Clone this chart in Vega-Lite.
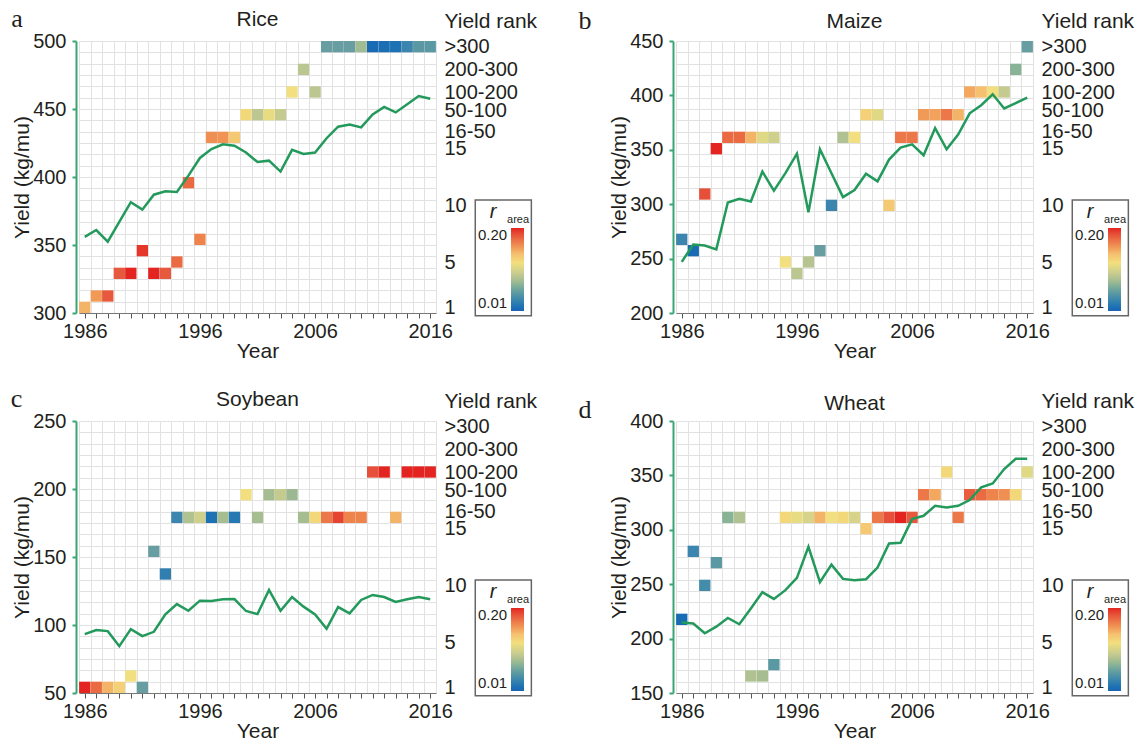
{
  "$schema": "https://vega.github.io/schema/vega-lite/v6.json",
  "padding": {"left": 10, "top": 5, "right": 5, "bottom": 5},
  "background": "white",
  "datasets": {
    "yield": [
      {"crop":"Rice","year":1986,"yield":356},{"crop":"Rice","year":1987,"yield":361},{"crop":"Rice","year":1988,"yield":352.5},{"crop":"Rice","year":1989,"yield":367},{"crop":"Rice","year":1990,"yield":381.5},{"crop":"Rice","year":1991,"yield":376},{"crop":"Rice","year":1992,"yield":387},{"crop":"Rice","year":1993,"yield":389.5},{"crop":"Rice","year":1994,"yield":389},{"crop":"Rice","year":1995,"yield":401},{"crop":"Rice","year":1996,"yield":414},{"crop":"Rice","year":1997,"yield":420.5},{"crop":"Rice","year":1998,"yield":424},{"crop":"Rice","year":1999,"yield":423},{"crop":"Rice","year":2000,"yield":418},{"crop":"Rice","year":2001,"yield":411},{"crop":"Rice","year":2002,"yield":412},{"crop":"Rice","year":2003,"yield":404},{"crop":"Rice","year":2004,"yield":420},{"crop":"Rice","year":2005,"yield":417},{"crop":"Rice","year":2006,"yield":418},{"crop":"Rice","year":2007,"yield":428.5},{"crop":"Rice","year":2008,"yield":437},{"crop":"Rice","year":2009,"yield":438.5},{"crop":"Rice","year":2010,"yield":436.5},{"crop":"Rice","year":2011,"yield":446},{"crop":"Rice","year":2012,"yield":451.5},{"crop":"Rice","year":2013,"yield":447.5},{"crop":"Rice","year":2014,"yield":453.5},{"crop":"Rice","year":2015,"yield":459.5},{"crop":"Rice","year":2016,"yield":457.5},
      {"crop":"Maize","year":1986,"yield":247},{"crop":"Maize","year":1987,"yield":263},{"crop":"Maize","year":1988,"yield":262},{"crop":"Maize","year":1989,"yield":258.5},{"crop":"Maize","year":1990,"yield":301.5},{"crop":"Maize","year":1991,"yield":305},{"crop":"Maize","year":1992,"yield":302.5},{"crop":"Maize","year":1993,"yield":330},{"crop":"Maize","year":1994,"yield":312.5},{"crop":"Maize","year":1995,"yield":328.5},{"crop":"Maize","year":1996,"yield":346.5},{"crop":"Maize","year":1997,"yield":292.5},{"crop":"Maize","year":1998,"yield":350.5},{"crop":"Maize","year":1999,"yield":328.5},{"crop":"Maize","year":2000,"yield":306.5},{"crop":"Maize","year":2001,"yield":313},{"crop":"Maize","year":2002,"yield":328},{"crop":"Maize","year":2003,"yield":321},{"crop":"Maize","year":2004,"yield":341},{"crop":"Maize","year":2005,"yield":352},{"crop":"Maize","year":2006,"yield":355},{"crop":"Maize","year":2007,"yield":345},{"crop":"Maize","year":2008,"yield":370},{"crop":"Maize","year":2009,"yield":350.5},{"crop":"Maize","year":2010,"yield":364},{"crop":"Maize","year":2011,"yield":383.5},{"crop":"Maize","year":2012,"yield":391},{"crop":"Maize","year":2013,"yield":401},{"crop":"Maize","year":2014,"yield":388},{"crop":"Maize","year":2015,"yield":393},{"crop":"Maize","year":2016,"yield":398},
      {"crop":"Soybean","year":1986,"yield":93.3},{"crop":"Soybean","year":1987,"yield":96.3},{"crop":"Soybean","year":1988,"yield":95.5},{"crop":"Soybean","year":1989,"yield":84.4},{"crop":"Soybean","year":1990,"yield":97},{"crop":"Soybean","year":1991,"yield":91.8},{"crop":"Soybean","year":1992,"yield":95},{"crop":"Soybean","year":1993,"yield":107.8},{"crop":"Soybean","year":1994,"yield":115.4},{"crop":"Soybean","year":1995,"yield":110.5},{"crop":"Soybean","year":1996,"yield":117.9},{"crop":"Soybean","year":1997,"yield":117.6},{"crop":"Soybean","year":1998,"yield":118.9},{"crop":"Soybean","year":1999,"yield":119.1},{"crop":"Soybean","year":2000,"yield":110.3},{"crop":"Soybean","year":2001,"yield":108},{"crop":"Soybean","year":2002,"yield":125.8},{"crop":"Soybean","year":2003,"yield":110.5},{"crop":"Soybean","year":2004,"yield":120.6},{"crop":"Soybean","year":2005,"yield":113.5},{"crop":"Soybean","year":2006,"yield":107.8},{"crop":"Soybean","year":2007,"yield":97.2},{"crop":"Soybean","year":2008,"yield":113.2},{"crop":"Soybean","year":2009,"yield":108.6},{"crop":"Soybean","year":2010,"yield":118.4},{"crop":"Soybean","year":2011,"yield":122.1},{"crop":"Soybean","year":2012,"yield":120.6},{"crop":"Soybean","year":2013,"yield":116.9},{"crop":"Soybean","year":2014,"yield":118.9},{"crop":"Soybean","year":2015,"yield":120.6},{"crop":"Soybean","year":2016,"yield":118.9},
      {"crop":"Wheat","year":1986,"yield":214.7},{"crop":"Wheat","year":1987,"yield":213.8},{"crop":"Wheat","year":1988,"yield":204.9},{"crop":"Wheat","year":1989,"yield":211},{"crop":"Wheat","year":1990,"yield":219},{"crop":"Wheat","year":1991,"yield":213.2},{"crop":"Wheat","year":1992,"yield":227.6},{"crop":"Wheat","year":1993,"yield":242.6},{"crop":"Wheat","year":1994,"yield":236.5},{"crop":"Wheat","year":1995,"yield":244.5},{"crop":"Wheat","year":1996,"yield":255.8},{"crop":"Wheat","year":1997,"yield":284.4},{"crop":"Wheat","year":1998,"yield":251.8},{"crop":"Wheat","year":1999,"yield":268},{"crop":"Wheat","year":2000,"yield":254.9},{"crop":"Wheat","year":2001,"yield":253.7},{"crop":"Wheat","year":2002,"yield":254.6},{"crop":"Wheat","year":2003,"yield":265.3},{"crop":"Wheat","year":2004,"yield":287.4},{"crop":"Wheat","year":2005,"yield":288},{"crop":"Wheat","year":2006,"yield":309.8},{"crop":"Wheat","year":2007,"yield":312.9},{"crop":"Wheat","year":2008,"yield":322},{"crop":"Wheat","year":2009,"yield":320.6},{"crop":"Wheat","year":2010,"yield":322},{"crop":"Wheat","year":2011,"yield":327.3},{"crop":"Wheat","year":2012,"yield":339},{"crop":"Wheat","year":2013,"yield":342.6},{"crop":"Wheat","year":2014,"yield":355.8},{"crop":"Wheat","year":2015,"yield":365.3},{"crop":"Wheat","year":2016,"yield":365.3}
    ],
    "cells": [
      {"crop":"Rice","year":1986,"rank":"1","r":0.145},{"crop":"Rice","year":1987,"rank":"2","r":0.155},{"crop":"Rice","year":1988,"rank":"2","r":0.182},{"crop":"Rice","year":1989,"rank":"4","r":0.182},{"crop":"Rice","year":1990,"rank":"4","r":0.2},{"crop":"Rice","year":1991,"rank":"6","r":0.195},{"crop":"Rice","year":1992,"rank":"4","r":0.2},{"crop":"Rice","year":1993,"rank":"4","r":0.182},{"crop":"Rice","year":1994,"rank":"5","r":0.175},{"crop":"Rice","year":1995,"rank":"12","r":0.175},{"crop":"Rice","year":1996,"rank":"7","r":0.165},{"crop":"Rice","year":1997,"rank":"16-50","r":0.16},{"crop":"Rice","year":1998,"rank":"16-50","r":0.158},{"crop":"Rice","year":1999,"rank":"16-50","r":0.135},{"crop":"Rice","year":2000,"rank":"50-100","r":0.125},{"crop":"Rice","year":2001,"rank":"50-100","r":0.09},{"crop":"Rice","year":2002,"rank":"50-100","r":0.115},{"crop":"Rice","year":2003,"rank":"50-100","r":0.095},{"crop":"Rice","year":2004,"rank":"100-200","r":0.12},{"crop":"Rice","year":2005,"rank":"200-300","r":0.09},{"crop":"Rice","year":2006,"rank":"100-200","r":0.09},{"crop":"Rice","year":2007,"rank":">300","r":0.055},{"crop":"Rice","year":2008,"rank":">300","r":0.055},{"crop":"Rice","year":2009,"rank":">300","r":0.055},{"crop":"Rice","year":2010,"rank":">300","r":0.078},{"crop":"Rice","year":2011,"rank":">300","r":0.015},{"crop":"Rice","year":2012,"rank":">300","r":0.017},{"crop":"Rice","year":2013,"rank":">300","r":0.02},{"crop":"Rice","year":2014,"rank":">300","r":0.035},{"crop":"Rice","year":2015,"rank":">300","r":0.05},{"crop":"Rice","year":2016,"rank":">300","r":0.05},
      {"crop":"Maize","year":1986,"rank":"7","r":0.035},{"crop":"Maize","year":1987,"rank":"6","r":0.015},{"crop":"Maize","year":1988,"rank":"11","r":0.185},{"crop":"Maize","year":1989,"rank":"15","r":0.2},{"crop":"Maize","year":1990,"rank":"16-50","r":0.175},{"crop":"Maize","year":1991,"rank":"16-50","r":0.175},{"crop":"Maize","year":1992,"rank":"16-50","r":0.145},{"crop":"Maize","year":1993,"rank":"16-50","r":0.11},{"crop":"Maize","year":1994,"rank":"16-50","r":0.1},{"crop":"Maize","year":1995,"rank":"5","r":0.12},{"crop":"Maize","year":1996,"rank":"4","r":0.09},{"crop":"Maize","year":1997,"rank":"5","r":0.088},{"crop":"Maize","year":1998,"rank":"6","r":0.055},{"crop":"Maize","year":1999,"rank":"10","r":0.035},{"crop":"Maize","year":2000,"rank":"16-50","r":0.085},{"crop":"Maize","year":2001,"rank":"16-50","r":0.12},{"crop":"Maize","year":2002,"rank":"50-100","r":0.13},{"crop":"Maize","year":2003,"rank":"50-100","r":0.11},{"crop":"Maize","year":2004,"rank":"10","r":0.135},{"crop":"Maize","year":2005,"rank":"16-50","r":0.17},{"crop":"Maize","year":2006,"rank":"16-50","r":0.17},{"crop":"Maize","year":2007,"rank":"50-100","r":0.155},{"crop":"Maize","year":2008,"rank":"50-100","r":0.152},{"crop":"Maize","year":2009,"rank":"50-100","r":0.17},{"crop":"Maize","year":2010,"rank":"50-100","r":0.145},{"crop":"Maize","year":2011,"rank":"100-200","r":0.15},{"crop":"Maize","year":2012,"rank":"100-200","r":0.14},{"crop":"Maize","year":2013,"rank":"100-200","r":0.12},{"crop":"Maize","year":2014,"rank":"100-200","r":0.095},{"crop":"Maize","year":2015,"rank":"200-300","r":0.07},{"crop":"Maize","year":2016,"rank":">300","r":0.055},
      {"crop":"Soybean","year":1986,"rank":"1","r":0.2},{"crop":"Soybean","year":1987,"rank":"1","r":0.175},{"crop":"Soybean","year":1988,"rank":"1","r":0.145},{"crop":"Soybean","year":1989,"rank":"1","r":0.13},{"crop":"Soybean","year":1990,"rank":"2","r":0.12},{"crop":"Soybean","year":1991,"rank":"1","r":0.055},{"crop":"Soybean","year":1992,"rank":"13","r":0.055},{"crop":"Soybean","year":1993,"rank":"11","r":0.03},{"crop":"Soybean","year":1994,"rank":"16-50","r":0.035},{"crop":"Soybean","year":1995,"rank":"16-50","r":0.085},{"crop":"Soybean","year":1996,"rank":"16-50","r":0.1},{"crop":"Soybean","year":1997,"rank":"16-50","r":0.02},{"crop":"Soybean","year":1998,"rank":"16-50","r":0.08},{"crop":"Soybean","year":1999,"rank":"16-50","r":0.025},{"crop":"Soybean","year":2000,"rank":"50-100","r":0.12},{"crop":"Soybean","year":2001,"rank":"16-50","r":0.08},{"crop":"Soybean","year":2002,"rank":"50-100","r":0.08},{"crop":"Soybean","year":2003,"rank":"50-100","r":0.095},{"crop":"Soybean","year":2004,"rank":"50-100","r":0.075},{"crop":"Soybean","year":2005,"rank":"16-50","r":0.08},{"crop":"Soybean","year":2006,"rank":"16-50","r":0.125},{"crop":"Soybean","year":2007,"rank":"16-50","r":0.17},{"crop":"Soybean","year":2008,"rank":"16-50","r":0.19},{"crop":"Soybean","year":2009,"rank":"16-50","r":0.165},{"crop":"Soybean","year":2010,"rank":"16-50","r":0.165},{"crop":"Soybean","year":2011,"rank":"100-200","r":0.185},{"crop":"Soybean","year":2012,"rank":"100-200","r":0.2},{"crop":"Soybean","year":2013,"rank":"16-50","r":0.145},{"crop":"Soybean","year":2014,"rank":"100-200","r":0.2},{"crop":"Soybean","year":2015,"rank":"100-200","r":0.2},{"crop":"Soybean","year":2016,"rank":"100-200","r":0.2},
      {"crop":"Wheat","year":1986,"rank":"7","r":0.015},{"crop":"Wheat","year":1987,"rank":"13","r":0.035},{"crop":"Wheat","year":1988,"rank":"10","r":0.04},{"crop":"Wheat","year":1989,"rank":"12","r":0.05},{"crop":"Wheat","year":1990,"rank":"16-50","r":0.07},{"crop":"Wheat","year":1991,"rank":"16-50","r":0.085},{"crop":"Wheat","year":1992,"rank":"2","r":0.085},{"crop":"Wheat","year":1993,"rank":"2","r":0.08},{"crop":"Wheat","year":1994,"rank":"3","r":0.05},{"crop":"Wheat","year":1995,"rank":"16-50","r":0.125},{"crop":"Wheat","year":1996,"rank":"16-50","r":0.115},{"crop":"Wheat","year":1997,"rank":"16-50","r":0.105},{"crop":"Wheat","year":1998,"rank":"16-50","r":0.145},{"crop":"Wheat","year":1999,"rank":"16-50","r":0.12},{"crop":"Wheat","year":2000,"rank":"16-50","r":0.125},{"crop":"Wheat","year":2001,"rank":"16-50","r":0.105},{"crop":"Wheat","year":2002,"rank":"15","r":0.135},{"crop":"Wheat","year":2003,"rank":"16-50","r":0.17},{"crop":"Wheat","year":2004,"rank":"16-50","r":0.185},{"crop":"Wheat","year":2005,"rank":"16-50","r":0.2},{"crop":"Wheat","year":2006,"rank":"16-50","r":0.182},{"crop":"Wheat","year":2007,"rank":"50-100","r":0.17},{"crop":"Wheat","year":2008,"rank":"50-100","r":0.15},{"crop":"Wheat","year":2009,"rank":"100-200","r":0.125},{"crop":"Wheat","year":2010,"rank":"16-50","r":0.17},{"crop":"Wheat","year":2011,"rank":"50-100","r":0.18},{"crop":"Wheat","year":2012,"rank":"50-100","r":0.175},{"crop":"Wheat","year":2013,"rank":"50-100","r":0.165},{"crop":"Wheat","year":2014,"rank":"50-100","r":0.16},{"crop":"Wheat","year":2015,"rank":"50-100","r":0.125},{"crop":"Wheat","year":2016,"rank":"100-200","r":0.11}
    ]
  },
  "columns": 2,
  "spacing": {"row": 108, "column": 240},
  "bounds": "flush",
  "resolve": {"scale": {"color": "independent", "x": "independent", "y": "independent"}, "legend": {"color": "independent"}},
  "concat": [
    {
      "width": 357, "height": 272,
      "title": {"text": "Rice", "dy": 28},
      "layer": [
        {
          "data": {"name": "cells"},
          "transform": [{"filter": "datum.crop === 'Rice'"}],
          "mark": {"type": "point", "shape": "square", "filled": true, "opacity": 1, "size": 128, "strokeWidth": 0},
          "encoding": {
            "x": {"field": "year", "type": "quantitative", "scale": {"domain": [1985.5, 2016.5], "nice": false, "zero": false},
              "axis": {"title": "Year", "values": [1985.5,1986,1986.5,1987,1987.5,1988,1988.5,1989,1989.5,1990,1990.5,1991,1991.5,1992,1992.5,1993,1993.5,1994,1994.5,1995,1995.5,1996,1996.5,1997,1997.5,1998,1998.5,1999,1999.5,2000,2000.5,2001,2001.5,2002,2002.5,2003,2003.5,2004,2004.5,2005,2005.5,2006,2006.5,2007,2007.5,2008,2008.5,2009,2009.5,2010,2010.5,2011,2011.5,2012,2012.5,2013,2013.5,2014,2014.5,2015,2015.5,2016,2016.5],
                "labelExpr": "indexof([1986,1996,2006,2016], datum.value) >= 0 ? '' + datum.value : ''",
                "grid": true, "gridColor": "#e2e2e2", "gridOpacity": {"condition": {"test": "datum.value % 1 !== 0", "value": 1}, "value": 0},
                "tickOpacity": {"condition": {"test": "datum.value % 1 === 0", "value": 1}, "value": 0},
                "tickSize": 5, "tickColor": "#555555", "domainColor": "#777777", "labelOverlap": false, "labelFlush": false, "labelBound": false, "labelPadding": 3, "titlePadding": -1}},
            "y": {"field": "rank", "type": "ordinal", "bandPosition": 0.5, "scale": {"type": "band", "paddingInner": 0, "paddingOuter": 0, "domain": [">300","    ","200-300","   ","100-200","  ","50-100"," ","16-50","15","14","13","12","11","10","9","8","7","6","5","4","3","2","1"]},
              "axis": {"orient": "right", "title": "Yield rank", "titleAngle": 0, "titleAlign": "left", "titleBaseline": "alphabetic", "titleX": 8, "titleY": -14, "domain": false, "ticks": false, "grid": true, "gridColor": "#e2e2e2", "tickBand": "extent", "labelPadding": 8, "labelOverlap": false, "labelBound": false,
                "labelExpr": "indexof(['1','5','10','15','16-50','50-100','100-200','200-300','>300'], datum.value) >= 0 ? datum.value : ''",
                "labelOffset": {"condition": [{"test": "datum.value === '16-50'", "value": -6}, {"test": "datum.value === '50-100'", "value": -4}], "value": 0}}},
            "color": {"field": "r", "type": "quantitative", "scale": {"domain": [0.01,0.035,0.055,0.075,0.09,0.1,0.12,0.14,0.155,0.17,0.185,0.2], "range": ["#1a64b4","#3c85ae","#689da1","#9bb892","#bcc691","#cfd08c","#f2df7f","#f5c170","#f19a58","#ec7748","#e6503a","#e32420"]},
              "legend": {"orient": "none", "legendX": 432, "legendY": 187, "title": null, "direction": "vertical", "gradientLength": 83, "gradientThickness": 13, "values": [0.01, 0.2], "format": ".2f", "labelAlign": "left", "labelOffset": -46, "labelFontSize": 15, "padding": 0, "gradientStrokeWidth": 0}}
          }
        },
        {
          "layer": [
            {"data": {"name": "yield"}, "transform": [{"filter": "datum.crop === 'Rice'"}],
             "mark": {"type": "line", "color": "#23995c", "strokeWidth": 2.5},
             "encoding": {
               "x": {"field": "year", "type": "quantitative", "scale": {"domain": [1985.5, 2016.5], "nice": false, "zero": false}, "axis": null},
               "y": {"field": "yield", "type": "quantitative", "scale": {"domain": [300, 500], "nice": false, "zero": false},
               "axis": {"title": "Yield (kg/mu)", "values": [300,350,400,450,500], "grid": false, "offset": 3, "domainColor": "#3aa574", "domainWidth": 2, "tickColor": "#3aa574", "tickWidth": 2, "tickSize": 4, "labelPadding": 6, "titlePadding": 0}}}},
            {"data": {"values": [{}]}, "mark": {"type": "rect", "fill": "transparent", "stroke": "#666666", "strokeWidth": 1.5},
             "encoding": {"x": {"datum": 2019.91, "type": "quantitative", "scale": {"domain": [1985.5, 2016.5], "nice": false, "zero": false}, "axis": null}, "x2": {"datum": 2024.78}, "y": {"datum": 383.1, "type": "quantitative"}, "y2": {"datum": 298.0}}},
            {"data": {"values": [{}]}, "mark": {"type": "text", "text": "r", "fontStyle": "italic", "fontSize": 20, "align": "center", "baseline": "alphabetic"},
             "encoding": {"x": {"datum": 2021.45, "type": "quantitative", "scale": {"domain": [1985.5, 2016.5], "nice": false, "zero": false}, "axis": null}, "y": {"datum": 369.9, "type": "quantitative"}}},
            {"data": {"values": [{}]}, "mark": {"type": "text", "text": "area", "fontSize": 11, "align": "left", "baseline": "alphabetic"},
             "encoding": {"x": {"datum": 2022.67, "type": "quantitative", "scale": {"domain": [1985.5, 2016.5], "nice": false, "zero": false}, "axis": null}, "y": {"datum": 366.2, "type": "quantitative"}}},
            {"data": {"values": [{}]}, "mark": {"type": "text", "text": "a", "font": "Liberation Serif", "fontSize": 26, "align": "center", "baseline": "alphabetic"},
             "encoding": {"x": {"datum": 1980.11, "type": "quantitative", "scale": {"domain": [1985.5, 2016.5], "nice": false, "zero": false}, "axis": null}, "y": {"datum": 510.3, "type": "quantitative"}}}
          ],
          "resolve": {"scale": {"x": "independent"}}
        }
      ],
      "resolve": {"scale": {"y": "independent"}}
    },
    {
      "width": 357, "height": 272,
      "title": {"text": "Maize", "dy": 28},
      "layer": [
        {
          "data": {"name": "cells"},
          "transform": [{"filter": "datum.crop === 'Maize'"}],
          "mark": {"type": "point", "shape": "square", "filled": true, "opacity": 1, "size": 128, "strokeWidth": 0},
          "encoding": {
            "x": {"field": "year", "type": "quantitative", "scale": {"domain": [1985.5, 2016.5], "nice": false, "zero": false},
              "axis": {"title": "Year", "values": [1985.5,1986,1986.5,1987,1987.5,1988,1988.5,1989,1989.5,1990,1990.5,1991,1991.5,1992,1992.5,1993,1993.5,1994,1994.5,1995,1995.5,1996,1996.5,1997,1997.5,1998,1998.5,1999,1999.5,2000,2000.5,2001,2001.5,2002,2002.5,2003,2003.5,2004,2004.5,2005,2005.5,2006,2006.5,2007,2007.5,2008,2008.5,2009,2009.5,2010,2010.5,2011,2011.5,2012,2012.5,2013,2013.5,2014,2014.5,2015,2015.5,2016,2016.5],
                "labelExpr": "indexof([1986,1996,2006,2016], datum.value) >= 0 ? '' + datum.value : ''",
                "grid": true, "gridColor": "#e2e2e2", "gridOpacity": {"condition": {"test": "datum.value % 1 !== 0", "value": 1}, "value": 0},
                "tickOpacity": {"condition": {"test": "datum.value % 1 === 0", "value": 1}, "value": 0},
                "tickSize": 5, "tickColor": "#555555", "domainColor": "#777777", "labelOverlap": false, "labelFlush": false, "labelBound": false, "labelPadding": 3, "titlePadding": -1}},
            "y": {"field": "rank", "type": "ordinal", "bandPosition": 0.5, "scale": {"type": "band", "paddingInner": 0, "paddingOuter": 0, "domain": [">300","    ","200-300","   ","100-200","  ","50-100"," ","16-50","15","14","13","12","11","10","9","8","7","6","5","4","3","2","1"]},
              "axis": {"orient": "right", "title": "Yield rank", "titleAngle": 0, "titleAlign": "left", "titleBaseline": "alphabetic", "titleX": 8, "titleY": -14, "domain": false, "ticks": false, "grid": true, "gridColor": "#e2e2e2", "tickBand": "extent", "labelPadding": 8, "labelOverlap": false, "labelBound": false,
                "labelExpr": "indexof(['1','5','10','15','16-50','50-100','100-200','200-300','>300'], datum.value) >= 0 ? datum.value : ''",
                "labelOffset": {"condition": [{"test": "datum.value === '16-50'", "value": -6}, {"test": "datum.value === '50-100'", "value": -4}], "value": 0}}},
            "color": {"field": "r", "type": "quantitative", "scale": {"domain": [0.01,0.035,0.055,0.075,0.09,0.1,0.12,0.14,0.155,0.17,0.185,0.2], "range": ["#1a64b4","#3c85ae","#689da1","#9bb892","#bcc691","#cfd08c","#f2df7f","#f5c170","#f19a58","#ec7748","#e6503a","#e32420"]},
              "legend": {"orient": "none", "legendX": 432, "legendY": 187, "title": null, "direction": "vertical", "gradientLength": 83, "gradientThickness": 13, "values": [0.01, 0.2], "format": ".2f", "labelAlign": "left", "labelOffset": -46, "labelFontSize": 15, "padding": 0, "gradientStrokeWidth": 0}}
          }
        },
        {
          "layer": [
            {"data": {"name": "yield"}, "transform": [{"filter": "datum.crop === 'Maize'"}],
             "mark": {"type": "line", "color": "#23995c", "strokeWidth": 2.5},
             "encoding": {
               "x": {"field": "year", "type": "quantitative", "scale": {"domain": [1985.5, 2016.5], "nice": false, "zero": false}, "axis": null},
               "y": {"field": "yield", "type": "quantitative", "scale": {"domain": [200, 450], "nice": false, "zero": false},
               "axis": {"title": "Yield (kg/mu)", "values": [200,250,300,350,400,450], "grid": false, "offset": 3, "domainColor": "#3aa574", "domainWidth": 2, "tickColor": "#3aa574", "tickWidth": 2, "tickSize": 4, "labelPadding": 6, "titlePadding": 0}}}},
            {"data": {"values": [{}]}, "mark": {"type": "rect", "fill": "transparent", "stroke": "#666666", "strokeWidth": 1.5},
             "encoding": {"x": {"datum": 2019.91, "type": "quantitative", "scale": {"domain": [1985.5, 2016.5], "nice": false, "zero": false}, "axis": null}, "x2": {"datum": 2024.78}, "y": {"datum": 303.8, "type": "quantitative"}, "y2": {"datum": 197.5}}},
            {"data": {"values": [{}]}, "mark": {"type": "text", "text": "r", "fontStyle": "italic", "fontSize": 20, "align": "center", "baseline": "alphabetic"},
             "encoding": {"x": {"datum": 2021.45, "type": "quantitative", "scale": {"domain": [1985.5, 2016.5], "nice": false, "zero": false}, "axis": null}, "y": {"datum": 287.3, "type": "quantitative"}}},
            {"data": {"values": [{}]}, "mark": {"type": "text", "text": "area", "fontSize": 11, "align": "left", "baseline": "alphabetic"},
             "encoding": {"x": {"datum": 2022.67, "type": "quantitative", "scale": {"domain": [1985.5, 2016.5], "nice": false, "zero": false}, "axis": null}, "y": {"datum": 282.7, "type": "quantitative"}}},
            {"data": {"values": [{}]}, "mark": {"type": "text", "text": "b", "font": "Liberation Serif", "fontSize": 26, "align": "center", "baseline": "alphabetic"},
             "encoding": {"x": {"datum": 1977.6, "type": "quantitative", "scale": {"domain": [1985.5, 2016.5], "nice": false, "zero": false}, "axis": null}, "y": {"datum": 461, "type": "quantitative"}}}
          ],
          "resolve": {"scale": {"x": "independent"}}
        }
      ],
      "resolve": {"scale": {"y": "independent"}}
    },
    {
      "width": 357, "height": 272,
      "title": {"text": "Soybean", "dy": 28},
      "layer": [
        {
          "data": {"name": "cells"},
          "transform": [{"filter": "datum.crop === 'Soybean'"}],
          "mark": {"type": "point", "shape": "square", "filled": true, "opacity": 1, "size": 128, "strokeWidth": 0},
          "encoding": {
            "x": {"field": "year", "type": "quantitative", "scale": {"domain": [1985.5, 2016.5], "nice": false, "zero": false},
              "axis": {"title": "Year", "values": [1985.5,1986,1986.5,1987,1987.5,1988,1988.5,1989,1989.5,1990,1990.5,1991,1991.5,1992,1992.5,1993,1993.5,1994,1994.5,1995,1995.5,1996,1996.5,1997,1997.5,1998,1998.5,1999,1999.5,2000,2000.5,2001,2001.5,2002,2002.5,2003,2003.5,2004,2004.5,2005,2005.5,2006,2006.5,2007,2007.5,2008,2008.5,2009,2009.5,2010,2010.5,2011,2011.5,2012,2012.5,2013,2013.5,2014,2014.5,2015,2015.5,2016,2016.5],
                "labelExpr": "indexof([1986,1996,2006,2016], datum.value) >= 0 ? '' + datum.value : ''",
                "grid": true, "gridColor": "#e2e2e2", "gridOpacity": {"condition": {"test": "datum.value % 1 !== 0", "value": 1}, "value": 0},
                "tickOpacity": {"condition": {"test": "datum.value % 1 === 0", "value": 1}, "value": 0},
                "tickSize": 5, "tickColor": "#555555", "domainColor": "#777777", "labelOverlap": false, "labelFlush": false, "labelBound": false, "labelPadding": 3, "titlePadding": -1}},
            "y": {"field": "rank", "type": "ordinal", "bandPosition": 0.5, "scale": {"type": "band", "paddingInner": 0, "paddingOuter": 0, "domain": [">300","    ","200-300","   ","100-200","  ","50-100"," ","16-50","15","14","13","12","11","10","9","8","7","6","5","4","3","2","1"]},
              "axis": {"orient": "right", "title": "Yield rank", "titleAngle": 0, "titleAlign": "left", "titleBaseline": "alphabetic", "titleX": 8, "titleY": -14, "domain": false, "ticks": false, "grid": true, "gridColor": "#e2e2e2", "tickBand": "extent", "labelPadding": 8, "labelOverlap": false, "labelBound": false,
                "labelExpr": "indexof(['1','5','10','15','16-50','50-100','100-200','200-300','>300'], datum.value) >= 0 ? datum.value : ''",
                "labelOffset": {"condition": [{"test": "datum.value === '16-50'", "value": -6}, {"test": "datum.value === '50-100'", "value": -4}], "value": 0}}},
            "color": {"field": "r", "type": "quantitative", "scale": {"domain": [0.01,0.035,0.055,0.075,0.09,0.1,0.12,0.14,0.155,0.17,0.185,0.2], "range": ["#1a64b4","#3c85ae","#689da1","#9bb892","#bcc691","#cfd08c","#f2df7f","#f5c170","#f19a58","#ec7748","#e6503a","#e32420"]},
              "legend": {"orient": "none", "legendX": 432, "legendY": 187, "title": null, "direction": "vertical", "gradientLength": 83, "gradientThickness": 13, "values": [0.01, 0.2], "format": ".2f", "labelAlign": "left", "labelOffset": -46, "labelFontSize": 15, "padding": 0, "gradientStrokeWidth": 0}}
          }
        },
        {
          "layer": [
            {"data": {"name": "yield"}, "transform": [{"filter": "datum.crop === 'Soybean'"}],
             "mark": {"type": "line", "color": "#23995c", "strokeWidth": 2.5},
             "encoding": {
               "x": {"field": "year", "type": "quantitative", "scale": {"domain": [1985.5, 2016.5], "nice": false, "zero": false}, "axis": null},
               "y": {"field": "yield", "type": "quantitative", "scale": {"domain": [50, 250], "nice": false, "zero": false},
               "axis": {"title": "Yield (kg/mu)", "values": [50,100,150,200,250], "grid": false, "offset": 3, "domainColor": "#3aa574", "domainWidth": 2, "tickColor": "#3aa574", "tickWidth": 2, "tickSize": 4, "labelPadding": 6, "titlePadding": 0}}}},
            {"data": {"values": [{}]}, "mark": {"type": "rect", "fill": "transparent", "stroke": "#666666", "strokeWidth": 1.5},
             "encoding": {"x": {"datum": 2019.91, "type": "quantitative", "scale": {"domain": [1985.5, 2016.5], "nice": false, "zero": false}, "axis": null}, "x2": {"datum": 2024.78}, "y": {"datum": 133.1, "type": "quantitative"}, "y2": {"datum": 48.0}}},
            {"data": {"values": [{}]}, "mark": {"type": "text", "text": "r", "fontStyle": "italic", "fontSize": 20, "align": "center", "baseline": "alphabetic"},
             "encoding": {"x": {"datum": 2021.45, "type": "quantitative", "scale": {"domain": [1985.5, 2016.5], "nice": false, "zero": false}, "axis": null}, "y": {"datum": 119.9, "type": "quantitative"}}},
            {"data": {"values": [{}]}, "mark": {"type": "text", "text": "area", "fontSize": 11, "align": "left", "baseline": "alphabetic"},
             "encoding": {"x": {"datum": 2022.67, "type": "quantitative", "scale": {"domain": [1985.5, 2016.5], "nice": false, "zero": false}, "axis": null}, "y": {"datum": 116.2, "type": "quantitative"}}},
            {"data": {"values": [{}]}, "mark": {"type": "text", "text": "c", "font": "Liberation Serif", "fontSize": 26, "align": "center", "baseline": "alphabetic"},
             "encoding": {"x": {"datum": 1980.07, "type": "quantitative", "scale": {"domain": [1985.5, 2016.5], "nice": false, "zero": false}, "axis": null}, "y": {"datum": 260, "type": "quantitative"}}}
          ],
          "resolve": {"scale": {"x": "independent"}}
        }
      ],
      "resolve": {"scale": {"y": "independent"}}
    },
    {
      "width": 357, "height": 272,
      "title": {"text": "Wheat", "dy": 28},
      "layer": [
        {
          "data": {"name": "cells"},
          "transform": [{"filter": "datum.crop === 'Wheat'"}],
          "mark": {"type": "point", "shape": "square", "filled": true, "opacity": 1, "size": 128, "strokeWidth": 0},
          "encoding": {
            "x": {"field": "year", "type": "quantitative", "scale": {"domain": [1985.5, 2016.5], "nice": false, "zero": false},
              "axis": {"title": "Year", "values": [1985.5,1986,1986.5,1987,1987.5,1988,1988.5,1989,1989.5,1990,1990.5,1991,1991.5,1992,1992.5,1993,1993.5,1994,1994.5,1995,1995.5,1996,1996.5,1997,1997.5,1998,1998.5,1999,1999.5,2000,2000.5,2001,2001.5,2002,2002.5,2003,2003.5,2004,2004.5,2005,2005.5,2006,2006.5,2007,2007.5,2008,2008.5,2009,2009.5,2010,2010.5,2011,2011.5,2012,2012.5,2013,2013.5,2014,2014.5,2015,2015.5,2016,2016.5],
                "labelExpr": "indexof([1986,1996,2006,2016], datum.value) >= 0 ? '' + datum.value : ''",
                "grid": true, "gridColor": "#e2e2e2", "gridOpacity": {"condition": {"test": "datum.value % 1 !== 0", "value": 1}, "value": 0},
                "tickOpacity": {"condition": {"test": "datum.value % 1 === 0", "value": 1}, "value": 0},
                "tickSize": 5, "tickColor": "#555555", "domainColor": "#777777", "labelOverlap": false, "labelFlush": false, "labelBound": false, "labelPadding": 3, "titlePadding": -1}},
            "y": {"field": "rank", "type": "ordinal", "bandPosition": 0.5, "scale": {"type": "band", "paddingInner": 0, "paddingOuter": 0, "domain": [">300","    ","200-300","   ","100-200","  ","50-100"," ","16-50","15","14","13","12","11","10","9","8","7","6","5","4","3","2","1"]},
              "axis": {"orient": "right", "title": "Yield rank", "titleAngle": 0, "titleAlign": "left", "titleBaseline": "alphabetic", "titleX": 8, "titleY": -14, "domain": false, "ticks": false, "grid": true, "gridColor": "#e2e2e2", "tickBand": "extent", "labelPadding": 8, "labelOverlap": false, "labelBound": false,
                "labelExpr": "indexof(['1','5','10','15','16-50','50-100','100-200','200-300','>300'], datum.value) >= 0 ? datum.value : ''",
                "labelOffset": {"condition": [{"test": "datum.value === '16-50'", "value": -6}, {"test": "datum.value === '50-100'", "value": -4}], "value": 0}}},
            "color": {"field": "r", "type": "quantitative", "scale": {"domain": [0.01,0.035,0.055,0.075,0.09,0.1,0.12,0.14,0.155,0.17,0.185,0.2], "range": ["#1a64b4","#3c85ae","#689da1","#9bb892","#bcc691","#cfd08c","#f2df7f","#f5c170","#f19a58","#ec7748","#e6503a","#e32420"]},
              "legend": {"orient": "none", "legendX": 432, "legendY": 187, "title": null, "direction": "vertical", "gradientLength": 83, "gradientThickness": 13, "values": [0.01, 0.2], "format": ".2f", "labelAlign": "left", "labelOffset": -46, "labelFontSize": 15, "padding": 0, "gradientStrokeWidth": 0}}
          }
        },
        {
          "layer": [
            {"data": {"name": "yield"}, "transform": [{"filter": "datum.crop === 'Wheat'"}],
             "mark": {"type": "line", "color": "#23995c", "strokeWidth": 2.5},
             "encoding": {
               "x": {"field": "year", "type": "quantitative", "scale": {"domain": [1985.5, 2016.5], "nice": false, "zero": false}, "axis": null},
               "y": {"field": "yield", "type": "quantitative", "scale": {"domain": [150, 400], "nice": false, "zero": false},
               "axis": {"title": "Yield (kg/mu)", "values": [150,200,250,300,350,400], "grid": false, "offset": 3, "domainColor": "#3aa574", "domainWidth": 2, "tickColor": "#3aa574", "tickWidth": 2, "tickSize": 4, "labelPadding": 6, "titlePadding": 0}}}},
            {"data": {"values": [{}]}, "mark": {"type": "rect", "fill": "transparent", "stroke": "#666666", "strokeWidth": 1.5},
             "encoding": {"x": {"datum": 2019.91, "type": "quantitative", "scale": {"domain": [1985.5, 2016.5], "nice": false, "zero": false}, "axis": null}, "x2": {"datum": 2024.78}, "y": {"datum": 253.8, "type": "quantitative"}, "y2": {"datum": 147.5}}},
            {"data": {"values": [{}]}, "mark": {"type": "text", "text": "r", "fontStyle": "italic", "fontSize": 20, "align": "center", "baseline": "alphabetic"},
             "encoding": {"x": {"datum": 2021.45, "type": "quantitative", "scale": {"domain": [1985.5, 2016.5], "nice": false, "zero": false}, "axis": null}, "y": {"datum": 237.3, "type": "quantitative"}}},
            {"data": {"values": [{}]}, "mark": {"type": "text", "text": "area", "fontSize": 11, "align": "left", "baseline": "alphabetic"},
             "encoding": {"x": {"datum": 2022.67, "type": "quantitative", "scale": {"domain": [1985.5, 2016.5], "nice": false, "zero": false}, "axis": null}, "y": {"datum": 232.7, "type": "quantitative"}}},
            {"data": {"values": [{}]}, "mark": {"type": "text", "text": "d", "font": "Liberation Serif", "fontSize": 26, "align": "center", "baseline": "alphabetic"},
             "encoding": {"x": {"datum": 1977.6, "type": "quantitative", "scale": {"domain": [1985.5, 2016.5], "nice": false, "zero": false}, "axis": null}, "y": {"datum": 402.8, "type": "quantitative"}}}
          ],
          "resolve": {"scale": {"x": "independent"}}
        }
      ],
      "resolve": {"scale": {"y": "independent"}}
    }
  ],
  "config": {
    "font": "Liberation Sans",
    "view": {"stroke": null},
    "axis": {"labelFont": "Liberation Sans", "titleFont": "Liberation Sans", "labelFontSize": 20, "titleFontSize": 21, "titleFontWeight": "normal", "labelColor": "#231f20", "titleColor": "#231f20"},
    "title": {"font": "Liberation Sans", "fontSize": 21, "fontWeight": "normal", "color": "#231f20", "offset": 0},
    "legend": {"labelFont": "Liberation Sans", "labelColor": "#231f20"},
    "text": {"font": "Liberation Sans", "color": "#231f20"}
  }
}
